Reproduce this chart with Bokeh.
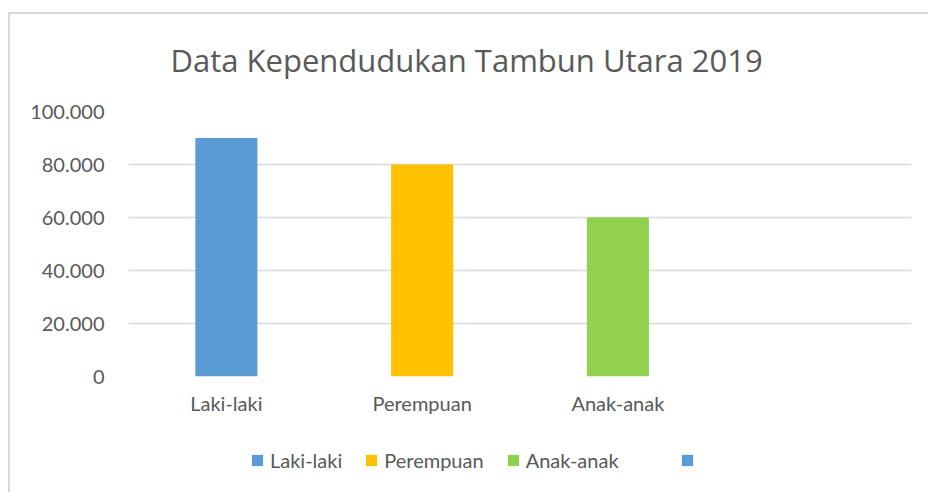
from bokeh.plotting import figure
from bokeh.layouts import column
from bokeh.models import FactorRange, Range1d, FixedTicker, ColumnDataSource, Legend, LegendItem
from bokeh.embed import file_html
from bokeh.resources import INLINE

title = "Data Kependudukan Tambun Utara 2019"
categories = ["Laki-laki", "Perempuan", "Anak-anak", " "]
values = [90000, 80000, 60000, 0]
colors = ["#5B9BD5", "#FFC000", "#92D050", "#5B9BD5"]
y_ticks = [0, 20000, 40000, 60000, 80000, 100000]
y_tick_labels = ["0", "20.000", "40.000", "60.000", "80.000", "100.000"]

FONT = "Lato"
TXT = "#595959"
EDGE = "#D9D9D9"

src = ColumnDataSource(dict(cat=categories, val=values, color=colors))

p = figure(width=928, height=420, output_backend="svg", toolbar_location=None,
           x_range=FactorRange(factors=categories, range_padding=0),
           y_range=Range1d(0, 100000),
           min_border_left=128, min_border_right=17, min_border_top=111, min_border_bottom=44)

r = p.vbar(x="cat", top="val", width=0.317, color="color", line_color=None, source=src)

p.title.text = title
p.title.text_font = "Open Sans"
p.title.text_font_size = "31px"
p.title.text_font_style = "normal"
p.title.text_color = TXT
p.title.align = "left"
p.title.offset = 42
p.title.standoff = 61

p.outline_line_color = None
p.background_fill_color = "white"
p.border_fill_alpha = 0

p.xgrid.grid_line_color = None
p.ygrid.grid_line_color = EDGE
p.ygrid.grid_line_width = 1.5
p.yaxis.ticker = FixedTicker(ticks=y_ticks)
p.yaxis.major_label_overrides = {t: l for t, l in zip(y_ticks, y_tick_labels)}
for ax in (p.xaxis, p.yaxis):
    ax.axis_line_color = None
    ax.major_tick_line_color = None
    ax.minor_tick_line_color = None
    ax.major_label_text_font = FONT
    ax.major_label_text_font_size = "20px"
    ax.major_label_text_color = TXT
p.yaxis.major_label_standoff = 18
p.xaxis.major_label_standoff = 8

# legend strip below the chart
p2 = figure(width=928, height=72, output_backend="svg", toolbar_location=None,
            x_range=FactorRange(factors=categories), y_range=Range1d(-2, -1),
            min_border_left=0, min_border_right=0, min_border_top=0, min_border_bottom=0)
p2.axis.visible = False
p2.grid.visible = False
p2.outline_line_color = None
p2.background_fill_alpha = 0
p2.border_fill_alpha = 0
r2 = p2.vbar(x="cat", top="val", width=0.317, color="color", line_color=None, source=src)
r2.visible = False
items = [LegendItem(label=c, renderers=[r2], index=i) for i, c in enumerate(categories)]
legend_style = dict(orientation="horizontal",
                    glyph_width=14, glyph_height=14, label_standoff=6, spacing=22,
                    label_text_font=FONT, label_text_font_size="20px", label_text_color=TXT,
                    inactive_fill_alpha=0,
                    border_line_color=None, background_fill_alpha=0, padding=0, margin=0)
p2.add_layout(Legend(items=items[:3], location=(122, 20), **legend_style), "center")
p2.add_layout(Legend(items=items[3:], location=(552, 25), **legend_style), "center")

layout = column(p, p2, spacing=0)
layout.styles = {
    "background-color": "white",
    "background-image": f"linear-gradient({EDGE},{EDGE}), linear-gradient({EDGE},{EDGE})",
    "background-size": "2px 100%, 100% 2px",
    "background-position": "8px 12px, 8px 12px",
    "background-repeat": "no-repeat",
}
open("out.html", "w").write(file_html(layout, INLINE))
